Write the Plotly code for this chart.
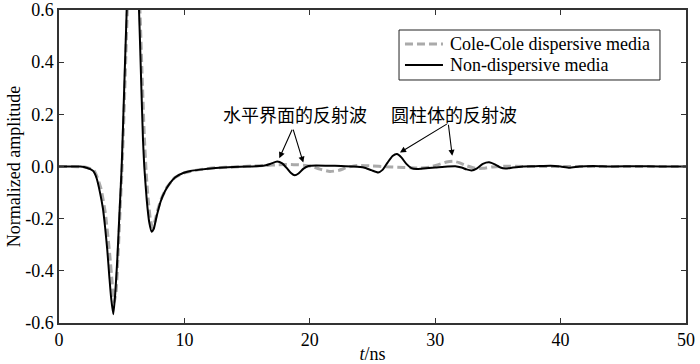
import plotly.graph_objects as go

# ---- data ----
t_nondisp = [0, 1, 1.7, 2.0, 2.2, 2.5, 2.74, 3.0, 3.27, 3.5, 3.67, 3.85, 4.01, 4.15, 4.33, 4.48, 4.65, 4.82,
             5.0, 5.2, 5.4, 5.6, 5.85, 6.1, 6.38, 6.55, 6.7, 6.8, 7.0, 7.2, 7.39, 7.55, 7.79, 8.1, 8.45, 8.85,
             9.25, 9.9, 10.5, 11.24, 12.5, 13.9, 15, 16, 16.5, 16.9, 17.4, 17.8, 18.2, 18.5, 18.8, 19.1, 19.5,
             19.9, 20.5, 21.5, 22.5, 23.5, 24.3, 24.9, 25.45, 25.8, 26.2, 26.6, 26.95, 27.3, 27.7, 28.1, 28.5,
             29, 30, 31, 31.6, 32.1, 32.5, 32.9, 33.3, 33.8, 34.3, 34.8, 35.2, 35.6, 36.2, 37, 38, 39.2, 40,
             40.7, 41.5, 42.6, 44, 46, 48, 50]
v_nondisp = [0, 0, 0, -0.002, -0.005, -0.01, -0.018, -0.045, -0.10, -0.16, -0.23, -0.32, -0.42, -0.50, -0.566,
             -0.49, -0.355, -0.18, 0.0, 0.3, 0.6, 0.85, 0.98, 0.88, 0.6, 0.33, 0.1, 0.0, -0.13, -0.215, -0.25,
             -0.24, -0.19, -0.135, -0.095, -0.064, -0.042, -0.025, -0.017, -0.012, -0.006, -0.002, 0.0, 0.002,
             0.005, 0.011, 0.019, 0.012, -0.008, -0.025, -0.034, -0.027, -0.008, 0.002, 0.004, 0.003, 0.002,
             0.0, -0.004, -0.014, -0.023, -0.013, 0.015, 0.04, 0.048, 0.035, 0.01, -0.006, -0.01, -0.008,
             -0.004, 0.0, 0.001, -0.004, -0.011, -0.015, -0.008, 0.01, 0.016, 0.007, -0.004, -0.008, -0.004,
             0.0, 0.001, 0.003, 0.0, -0.005, 0.0, 0.002, 0.0, 0.001, 0.0, 0.0]

t_colecole = [0, 1, 2.0, 2.3, 2.74, 3.0, 3.35, 3.7, 4.05, 4.25, 4.4, 4.55, 4.72, 4.88, 5.05, 5.25, 5.45, 5.65,
              5.9, 6.15, 6.45, 6.62, 6.8, 6.95, 7.1, 7.28, 7.45, 7.62, 7.85, 8.15, 8.6, 9.25, 10, 11.24, 12.5,
              14, 15.5, 16.5, 17.5, 18.5, 19.5, 20.2, 20.8, 21.6, 22.3, 23.0, 23.8, 25, 26, 27, 28, 28.8, 29.6,
              30.3, 30.9, 31.4, 31.9, 32.5, 33.2, 33.8, 34.5, 35.5, 37, 39, 41, 43, 45, 47, 50]
v_colecole = [0, 0, -0.002, -0.005, -0.012, -0.035, -0.085, -0.18, -0.34, -0.45, -0.52, -0.48, -0.33, -0.16,
              0.02, 0.3, 0.6, 0.82, 0.94, 0.87, 0.6, 0.36, 0.12, -0.02, -0.12, -0.2, -0.235, -0.215, -0.17,
              -0.125, -0.08, -0.042, -0.024, -0.012, -0.005, -0.002, 0.002, 0.004, 0.007, 0.008, 0.005, 0.0,
              -0.01, -0.019, -0.015, -0.003, 0.004, 0.002, -0.001, -0.003, -0.005, -0.006, -0.002, 0.008,
              0.017, 0.02, 0.015, 0.003, -0.007, -0.007, -0.002, 0.001, 0.0, 0.0, 0.0, 0.0, 0.0, 0.0, 0.0]

series_names = ["Cole-Cole dispersive media", "Non-dispersive media"]

x_ticks = [0, 10, 20, 30, 40, 50]
y_ticks = [-0.6, -0.4, -0.2, 0.0, 0.2, 0.4, 0.6]
y_ticktext = ["-0.6", "-0.4", "-0.2", "0.0", "0.2", "0.4", "0.6"]

label_horizontal = "水平界面的反射波"
label_cylinder = "圆柱体的反射波"

SERIF = "Liberation Serif"
CJK = "Noto Sans CJK SC"
GRAY = "#aaaaaa"
GRAY_DASH = "8px,4px"

fig = go.Figure()
fig.add_trace(go.Scatter(x=t_colecole, y=v_colecole, mode="lines", name=series_names[0], showlegend=False,
                         line=dict(color=GRAY, width=3, dash=GRAY_DASH, shape="spline", smoothing=0.5)))
fig.add_trace(go.Scatter(x=t_nondisp, y=v_nondisp, mode="lines", name=series_names[1], showlegend=False,
                         line=dict(color="black", width=2, shape="spline", smoothing=0.5)))

# text labels
fig.add_annotation(x=18.85, y=0.2, text=label_horizontal, showarrow=False,
                   font=dict(family=CJK, size=18, color="black"))
fig.add_annotation(x=31.5, y=0.2, text=label_cylinder, showarrow=False,
                   font=dict(family=CJK, size=18, color="black"))

# arrows: (tail_x, tail_y, tip_x, tip_y)
arrows = [(18.64, 0.147, 17.57, 0.032), (18.64, 0.147, 19.48, 0.015),
          (31.04, 0.166, 27.19, 0.0535), (31.04, 0.166, 31.36, 0.041)]
for tx, ty, hx, hy in arrows:
    fig.add_annotation(x=hx, y=hy, ax=tx, ay=ty, axref="x", ayref="y", xref="x", yref="y",
                       text="", showarrow=True, arrowhead=2, arrowsize=1.1, arrowwidth=1.1,
                       arrowcolor="black", standoff=0, startstandoff=0)

# legend box (drawn in axis-domain coordinates)
fig.add_shape(type="rect", xref="x domain", yref="y domain", x0=0.5423, x1=0.9585, y0=0.7764, y1=0.9361,
              line=dict(color="#222222", width=1), fillcolor="white", layer="above")
legend_rows = [(0.8914, GRAY, 3, GRAY_DASH), (0.8243, "black", 2, "solid")]
for (yy, col, w, d), name in zip(legend_rows, series_names):
    fig.add_shape(type="line", xref="x domain", yref="y domain", x0=0.5518, x1=0.6124, y0=yy, y1=yy,
                  line=dict(color=col, width=w, dash=d), layer="above")
    fig.add_annotation(xref="x domain", yref="y domain", x=0.6204, y=yy, text=name, showarrow=False,
                       xanchor="left", yanchor="middle", font=dict(family=SERIF, size=18, color="black"))

axis_common = dict(showline=True, linecolor="#333333", linewidth=1.5, mirror="ticks",
                   ticks="inside", ticklen=5, tickwidth=1.2, tickcolor="#333333",
                   showgrid=False, zeroline=False, automargin=False,
                   tickfont=dict(family=SERIF, size=18, color="black"))

fig.update_xaxes(range=[0, 50], tickvals=x_ticks,
                 title=dict(text="<i>t</i>/ns", font=dict(family=SERIF, size=18, color="black"), standoff=0),
                 **axis_common)
fig.update_yaxes(range=[-0.6, 0.6], tickvals=y_ticks, ticktext=y_ticktext,
                 title=dict(text="Normalized amplitude", font=dict(family=SERIF, size=18, color="black"), standoff=0),
                 **axis_common)

fig.update_layout(
    width=700, height=364,
    margin=dict(l=59, r=14, t=10, b=41),
    paper_bgcolor="white", plot_bgcolor="white",
    showlegend=False,
)

fig.write_html("out.html", config={"displayModeBar": False},
               post_script="document.body.style.margin='0px';document.body.style.overflow='hidden';")
